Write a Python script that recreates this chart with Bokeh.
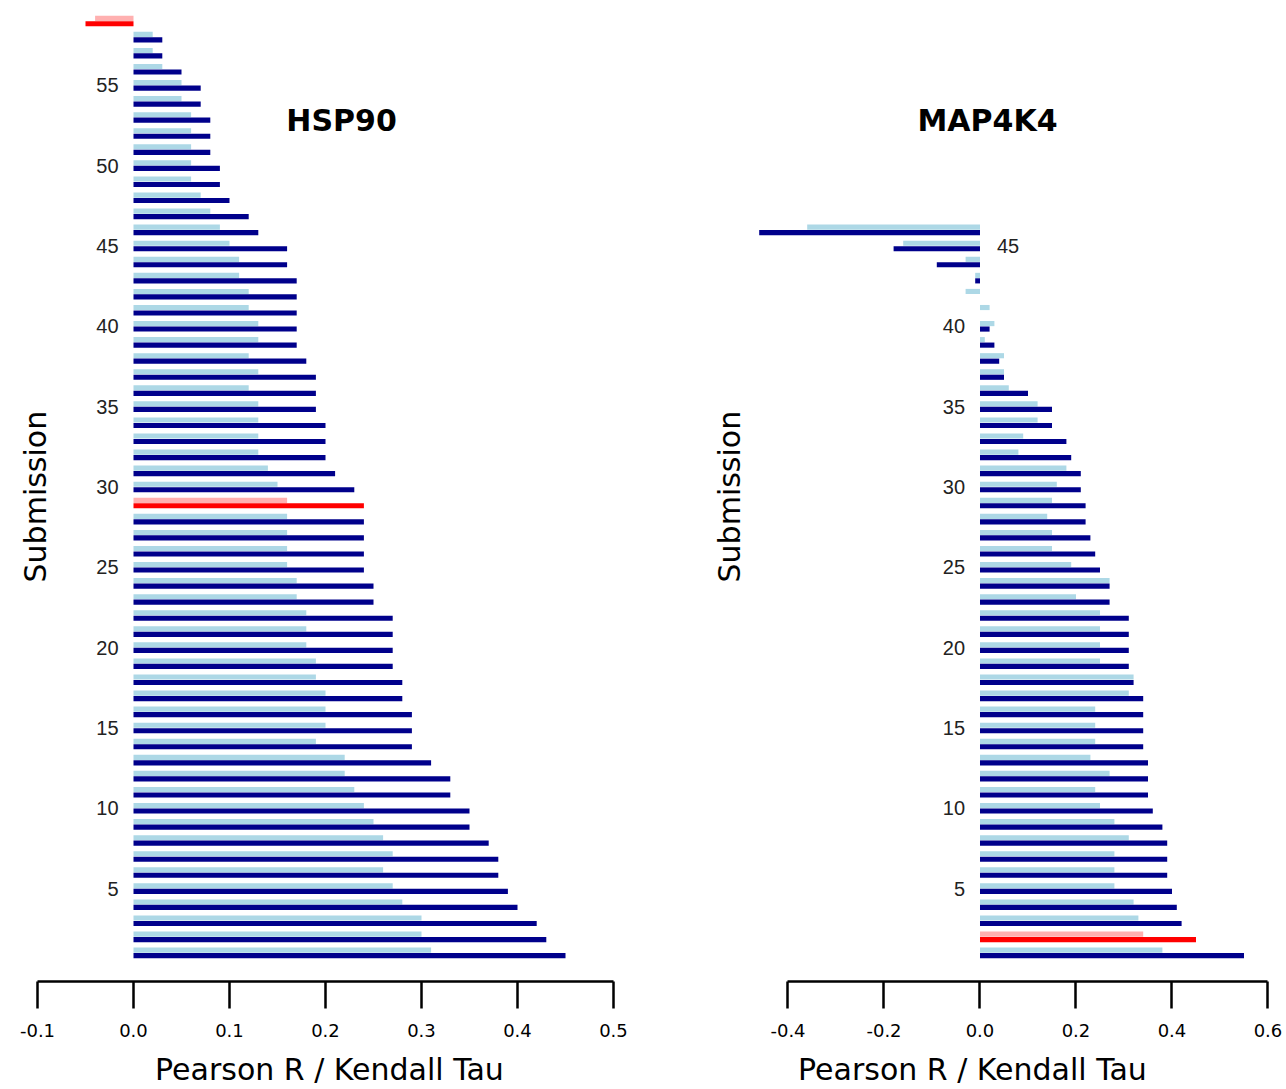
import numpy as np
from bokeh.plotting import figure
from bokeh.models import Range1d, LinearAxis, FixedTicker, ColumnDataSource
from bokeh.layouts import row
from bokeh.transform import dodge
from bokeh.embed import file_html
from bokeh.resources import INLINE
from bokeh.core.properties import value

# ---------------- data ----------------
hsp_submission = list(range(1, 60))
hsp_pearson = [0.45, 0.43, 0.42, 0.40, 0.39, 0.38, 0.38, 0.37, 0.35, 0.35,
               0.33, 0.33, 0.31, 0.29, 0.29, 0.29, 0.28, 0.28, 0.27, 0.27,
               0.27, 0.27, 0.25, 0.25, 0.24, 0.24, 0.24, 0.24, 0.24, 0.23,
               0.21, 0.20, 0.20, 0.20, 0.19, 0.19, 0.19, 0.18, 0.17, 0.17,
               0.17, 0.17, 0.17, 0.16, 0.16, 0.13, 0.12, 0.10, 0.09, 0.09,
               0.08, 0.08, 0.08, 0.07, 0.07, 0.05, 0.03, 0.03, -0.05]
hsp_kendall = [0.31, 0.30, 0.30, 0.28, 0.27, 0.26, 0.27, 0.26, 0.25, 0.24,
               0.23, 0.22, 0.22, 0.19, 0.20, 0.20, 0.20, 0.19, 0.19, 0.18,
               0.18, 0.18, 0.17, 0.17, 0.16, 0.16, 0.16, 0.16, 0.16, 0.15,
               0.14, 0.13, 0.13, 0.13, 0.13, 0.12, 0.13, 0.12, 0.13, 0.13,
               0.12, 0.12, 0.11, 0.11, 0.10, 0.09, 0.08, 0.07, 0.06, 0.06,
               0.06, 0.06, 0.06, 0.05, 0.05, 0.03, 0.02, 0.02, -0.04]
hsp_highlight = [29, 59]
hsp_xticks = [-0.1, 0.0, 0.1, 0.2, 0.3, 0.4, 0.5]
hsp_xtick_labels = ["-0.1", "0.0", "0.1", "0.2", "0.3", "0.4", "0.5"]
hsp_yticks = [5, 10, 15, 20, 25, 30, 35, 40, 45, 50, 55]

map_submission = list(range(1, 47))
map_pearson = [0.55, 0.45, 0.42, 0.41, 0.40, 0.39, 0.39, 0.39, 0.38, 0.36,
               0.35, 0.35, 0.35, 0.34, 0.34, 0.34, 0.34, 0.32, 0.31, 0.31,
               0.31, 0.31, 0.27, 0.27, 0.25, 0.24, 0.23, 0.22, 0.22, 0.21,
               0.21, 0.19, 0.18, 0.15, 0.15, 0.10, 0.05, 0.04, 0.03, 0.02,
               0.00, 0.00, -0.01, -0.09, -0.18, -0.46]
map_kendall = [0.38, 0.34, 0.33, 0.32, 0.28, 0.28, 0.28, 0.31, 0.28, 0.25,
               0.24, 0.27, 0.23, 0.24, 0.24, 0.24, 0.31, 0.32, 0.25, 0.25,
               0.25, 0.25, 0.20, 0.27, 0.19, 0.15, 0.15, 0.14, 0.15, 0.16,
               0.18, 0.08, 0.09, 0.12, 0.12, 0.06, 0.05, 0.05, 0.01, 0.03,
               0.02, -0.03, -0.01, -0.03, -0.16, -0.36]
map_highlight = [2]
map_xticks = [-0.4, -0.2, 0.0, 0.2, 0.4, 0.6]
map_xtick_labels = ["-0.4", "-0.2", "0.0", "0.2", "0.4", "0.6"]
map_yticks = [5, 10, 15, 20, 25, 30, 35, 40, 45]

DARK = "#00008B"
LIGHT = "#ADD8E6"
RED = "#FF0000"
LIGHT_RED = "#FFB0B0"
FONT = "DejaVu Sans"


def make_panel(title, subs, pearson, kendall, highlight, xticks, xlabels,
               yticks, xr, width, title_xy, sub_x):
    p = figure(width=width, height=1089,
               x_range=Range1d(*xr), y_range=Range1d(-0.78, 60.28),
               output_backend="svg", toolbar_location=None,
               x_axis_location=None, y_axis_location=None,
               min_border_left=0, min_border_right=0,
               min_border_top=0, min_border_bottom=106)
    p.outline_line_color = None
    p.background_fill_color = "white"
    p.border_fill_color = "white"
    p.grid.grid_line_color = None
    p.grid.visible = False

    dc = [RED if s in highlight else DARK for s in subs]
    lc = [LIGHT_RED if s in highlight else LIGHT for s in subs]
    src = ColumnDataSource(dict(y=subs, pearson=pearson, kendall=kendall,
                                dc=dc, lc=lc))
    p.hbar(y=dodge("y", 0.17), left=0, right="kendall", height=0.32,
           fill_color="lc", line_color=None, source=src)
    p.hbar(y=dodge("y", -0.17), left=0, right="pearson", height=0.32,
           fill_color="dc", line_color=None, source=src)

    # y tick labels (placed beside the zero line, on the side away from bars)
    left_t = [t for t in yticks if pearson[t - 1] >= 0]
    right_t = [t for t in yticks if pearson[t - 1] < 0]
    if left_t:
        p.text(x=[0] * len(left_t), y=left_t, text=[str(t) for t in left_t],
               x_offset=-15, text_align="right", text_baseline="middle",
               text_font=value("Liberation Sans"), text_font_size="20px",
               text_color="#222222")
    if right_t:
        p.text(x=[0] * len(right_t), y=right_t, text=[str(t) for t in right_t],
               x_offset=17, text_align="left", text_baseline="middle",
               text_font=value("Liberation Sans"), text_font_size="20px",
               text_color="#222222")

    p.text(x=[title_xy[0]], y=[title_xy[1]], text=[title],
           text_align="center", text_baseline="middle",
           text_font=value(FONT), text_font_style="bold",
           text_font_size="30px", text_color="black")
    p.text(x=[sub_x], y=[29.4], text=["Submission"], angle=np.pi / 2,
           text_align="center", text_baseline="middle",
           text_font=value(FONT), text_font_size="30px", text_color="black")

    ax = LinearAxis(ticker=FixedTicker(ticks=xticks),
                    bounds=(xticks[0], xticks[-1]),
                    axis_label="Pearson R / Kendall Tau",
                    major_label_overrides={t: l for t, l in zip(xticks, xlabels)})
    ax.axis_line_width = 2.5
    ax.axis_line_color = "black"
    ax.major_tick_line_width = 2.5
    ax.major_tick_line_color = "black"
    ax.major_tick_out = 27
    ax.major_tick_in = 0
    ax.minor_tick_out = 0
    ax.minor_tick_in = 0
    ax.major_label_text_font = FONT
    ax.major_label_text_font_size = "18px"
    ax.major_label_text_color = "black"
    ax.major_label_standoff = 15
    ax.axis_label_text_font = FONT
    ax.axis_label_text_font_size = "30px"
    ax.axis_label_text_font_style = "normal"
    ax.axis_label_text_color = "black"
    ax.axis_label_standoff = 12
    p.add_layout(ax, "below")
    return p


left = make_panel("HSP90", hsp_submission, hsp_pearson, hsp_kendall,
                  hsp_highlight, hsp_xticks, hsp_xtick_labels, hsp_yticks,
                  (-0.138542, 0.546875), 658, (0.2167, 52.8), -0.102)
right = make_panel("MAP4K4", map_submission, map_pearson, map_kendall,
                   map_highlight, map_xticks, map_xtick_labels, map_yticks,
                   (-0.66979, 0.638542), 628, (0.0156, 52.8), -0.522)

layout = row(left, right, spacing=0)
open("out.html", "w").write(file_html(layout, INLINE))
